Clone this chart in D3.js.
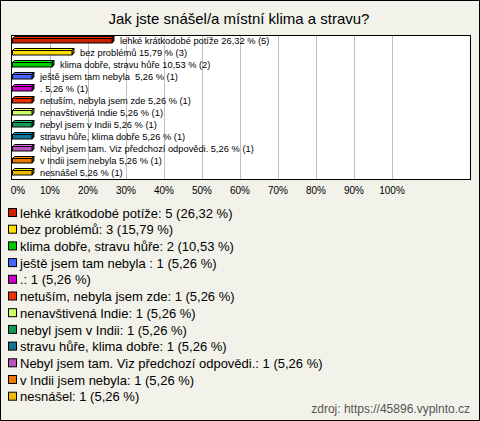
<!DOCTYPE html>
<html><head><meta charset="utf-8">
<script src="https://cdn.jsdelivr.net/npm/d3@7"></script>
<style>
body{margin:0;padding:0;background:#f2f2ea;}
text{font-family:"Liberation Sans",Arial,sans-serif;white-space:pre;}
</style></head>
<body><svg id="c" width="480" height="421"></svg>
<script>
const title = "Jak jste snášel/a místní klima a stravu?";
const categories = ["lehké krátkodobé potíže","bez problémů","klima dobře, stravu hůře","ještě jsem tam nebyla ",".","netuším, nebyla jsem zde","nenavštivená Indie","nebyl jsem v Indii","stravu hůře, klima dobře","Nebyl jsem tam. Viz předchozí odpovědi.","v Indii jsem nebyla","nesnášel"];
const counts = [5,3,2,1,1,1,1,1,1,1,1,1];
const percents = [26.32,15.79,10.53,5.26,5.26,5.26,5.26,5.26,5.26,5.26,5.26,5.26];
const colors = ["#cc2200","#ffdd00","#00cc00","#4466ff","#cc00cc","#ee3300","#ccff66","#119955","#117799","#bb55bb","#ee7700","#eebb00"];
const ticks = [0,10,20,30,40,50,60,70,80,90,100];
const source = "zdroj: https://45896.vyplnto.cz";

const svg = d3.select("#c");
const fmt = v => v.toFixed(2).replace(".", ",");

svg.append("rect").attr("x",0.5).attr("y",0.5).attr("width",479).attr("height",420)
  .attr("fill","#f2f2ea").attr("stroke","#000");

svg.append("text").attr("x",239).attr("y",24).attr("text-anchor","middle")
  .attr("font-size",15).attr("fill","#000").text(title);

const plot = {x0:11.5, x1:470.5, y0:35.5, y1:179.5};
svg.append("rect").attr("x",plot.x0).attr("y",plot.y0).attr("width",plot.x1-plot.x0).attr("height",plot.y1-plot.y0)
  .attr("fill","#fff").attr("stroke","none");

const x = d3.scaleLinear().domain([0,100]).range([12,392]);
const y = d3.scaleBand().domain(categories).range([35,179]).paddingInner(0).paddingOuter(0);

svg.append("g").selectAll("line").data(ticks.filter(t=>t>0)).join("line")
  .attr("x1",d=>Math.round(x(d))+0.5).attr("x2",d=>Math.round(x(d))+0.5)
  .attr("y1",plot.y0).attr("y2",plot.y1).attr("stroke","#c0c0c0").attr("stroke-width",1);

svg.append("rect").attr("x",plot.x0).attr("y",plot.y0).attr("width",plot.x1-plot.x0).attr("height",plot.y1-plot.y0)
  .attr("fill","none").attr("stroke","#000");

const dp = 2;
const bars = svg.append("g").selectAll("g").data(categories).join("g");
bars.each(function(c,i){
  const g = d3.select(this);
  const cy = y(c) + y.bandwidth()/2 - 0.5;
  const xa = x(0)+0.5, xb = x(percents[i]);
  const top = cy-2, bot = cy+2.5;
  const col = d3.color(colors[i]);
  g.append("path").attr("d",`M${xa},${top}L${xa+dp},${top-dp}L${xb+dp},${top-dp}L${xb},${top}Z`)
    .attr("fill",col.brighter(0.6)).attr("stroke","#000").attr("stroke-width",1);
  g.append("path").attr("d",`M${xb},${top}L${xb+dp},${top-dp}L${xb+dp},${bot-dp}L${xb},${bot}Z`)
    .attr("fill",col.darker(0.6)).attr("stroke","#000").attr("stroke-width",1);
  g.append("rect").attr("x",xa).attr("y",top).attr("width",xb-xa).attr("height",bot-top)
    .attr("fill",col).attr("stroke","#000").attr("stroke-width",1);
  g.append("text").attr("x",xb+dp+6).attr("y",cy).attr("dy","0.35em")
    .attr("font-size",9.3).attr("fill","#000")
    .text(`${c} ${fmt(percents[i])} % (${counts[i]})`);
});

svg.append("g").selectAll("text").data(ticks).join("text")
  .attr("x",d=> d===0 ? x(d)+6 : x(d)).attr("y",194).attr("text-anchor","middle")
  .attr("font-size",10).attr("fill","#000").text(d=>d+"%");

const leg = svg.append("g").selectAll("g").data(categories).join("g")
  .attr("transform",(d,i)=>`translate(0,${213 + i*16.7})`);
leg.append("rect").attr("x",8.5).attr("y",-4.5).attr("width",8).attr("height",8)
  .attr("fill",(d,i)=>colors[i]).attr("stroke","#000");
leg.append("text").attr("x",20).attr("y",0).attr("dy","0.36em").attr("font-size",13).attr("fill","#000")
  .text((d,i)=>`${d}: ${counts[i]} (${fmt(percents[i])} %)`);

svg.append("text").attr("x",470).attr("y",413).attr("text-anchor","end")
  .attr("font-size",12).attr("fill","#555").text(source);
</script></body></html>
